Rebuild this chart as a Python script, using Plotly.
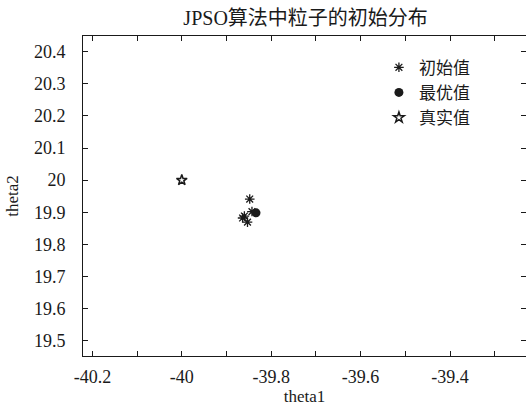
import plotly.graph_objects as go

# data
init_x = [-39.848, -39.860, -39.853, -39.843, -39.864]
init_y = [19.941, 19.888, 19.869, 19.902, 19.882]
best_x = [-39.834]
best_y = [19.898]
true_x = [-40.0]
true_y = [20.0]
names = ["初始值", "最优值", "真实值"]
title = "JPSO算法中粒子的初始分布"
xlabel = "theta1"
ylabel = "theta2"

FONT = "'Liberation Serif', 'Noto Sans CJK SC', serif"
C = "#1a1a1a"

fig = go.Figure()
fig.add_trace(go.Scatter(x=init_x, y=init_y, mode="markers", name=names[0],
                         marker=dict(symbol="asterisk-open", size=8, color=C,
                                     line=dict(color=C, width=1.3))))
fig.add_trace(go.Scatter(x=best_x, y=best_y, mode="markers", name=names[1],
                         marker=dict(symbol="circle", size=9, color=C)))
fig.add_trace(go.Scatter(x=true_x, y=true_y, mode="markers", name=names[2],
                         marker=dict(symbol="star-open", size=8, color=C,
                                     line=dict(color=C, width=1.5))))

TICKFONT = dict(family=FONT, size=18, color=C)
axis_common = dict(showline=True, linecolor=C, linewidth=1, mirror="ticks",
                   ticks="inside", ticklen=5, tickcolor=C, showgrid=False,
                   zeroline=False, tickfont=TICKFONT)

fig.update_layout(
    width=526, height=408,
    margin=dict(l=83, r=0, t=36, b=52),
    paper_bgcolor="white", plot_bgcolor="white",
    font=dict(family=FONT, size=17, color=C),
    title=dict(text=title, x=0.581, xanchor="center", y=0.955, yanchor="middle",
               font=dict(family=FONT, size=20, color=C)),
    showlegend=True,
    legend=dict(x=0.668, y=0.957, xanchor="left", yanchor="top",
                bgcolor="rgba(0,0,0,0)", borderwidth=0,
                font=dict(family=FONT, size=17, color=C),
                itemwidth=30, tracegroupgap=0),
    xaxis=dict(range=[-40.221, -39.23], tickmode="array",
               tickvals=[-40.2, -40.0, -39.8, -39.6, -39.4],
               ticktext=["-40.2", "-40", "-39.8", "-39.6", "-39.4"],
               minor=dict(tickvals=[-40.1, -39.9, -39.7, -39.5, -39.3],
                          ticks="inside", ticklen=5, tickcolor=C),
               title=dict(text=xlabel, font=dict(family=FONT, size=17, color=C), standoff=1),
               ticklabelstandoff=4,
               **axis_common),
    yaxis=dict(range=[19.452, 20.449], tickmode="array",
               tickvals=[19.5, 19.6, 19.7, 19.8, 19.9, 20.0, 20.1, 20.2, 20.3, 20.4],
               ticktext=["19.5", "19.6", "19.7", "19.8", "19.9", "20", "20.1", "20.2", "20.3", "20.4"],
               title=dict(text=ylabel, font=dict(family=FONT, size=17, color=C), standoff=10),
               ticklabelstandoff=13,
               **axis_common),
)

fig.write_html("out.html")
